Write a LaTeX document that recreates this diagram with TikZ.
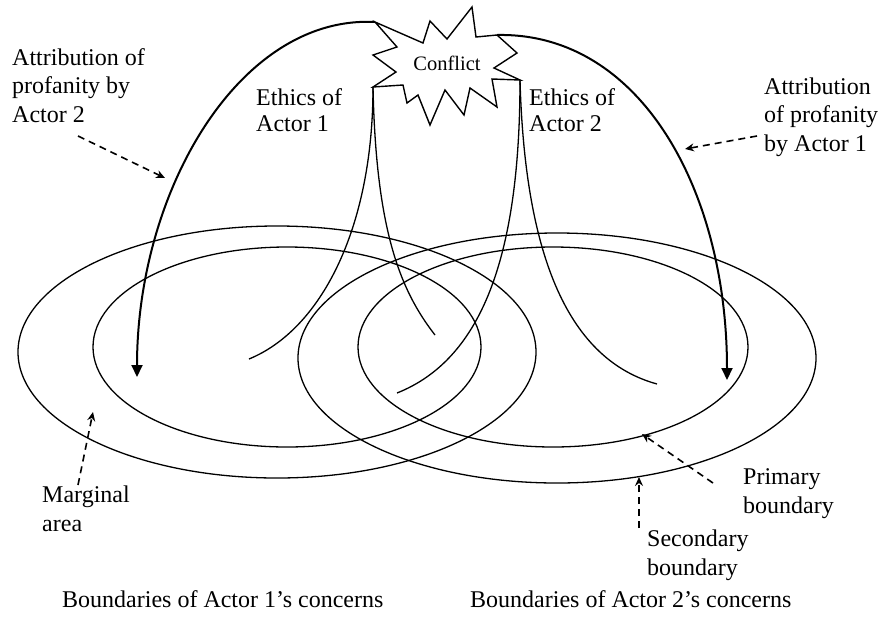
\documentclass[tikz,border=0pt]{standalone}
\usepackage{fontspec}
\setmainfont{Liberation Serif}
\usetikzlibrary{arrows.meta}
\begin{document}
\begin{tikzpicture}[x=1pt,y=-1pt,
  thinline/.style={line width=1.3pt},
  bigarc/.style={line width=2pt,-{Triangle[length=12pt,width=11pt]}},
  pointer/.style={line width=1.6pt,dash pattern=on 7pt off 5pt,-{Stealth[length=9pt,width=8pt,inset=3pt]}},
  lbl/.style={font=\fontsize{24pt}{28.5pt}\selectfont,align=left,inner sep=0pt,anchor=base west},
  lbltight/.style={font=\fontsize{24pt}{26pt}\selectfont,align=left,inner sep=0pt,anchor=base west},
]
\useasboundingbox (0,0) rectangle (884,633);

% boundaries
\draw[thinline] (277,352) ellipse [x radius=259pt, y radius=126pt];
\draw[thinline] (287,347) ellipse [x radius=194pt, y radius=100pt];
\draw[thinline] (557,358) ellipse [x radius=259pt, y radius=125pt];
\draw[thinline] (553,347) ellipse [x radius=195pt, y radius=100pt];

% star tips used as connector ends
\coordinate (sTL) at (375,22);
\coordinate (sTR) at (497,35);
\coordinate (sBL) at (373,87);
\coordinate (sBR) at (520,80);

% ethics curves
\coordinate (e1a) at (249,359);
\coordinate (e1b) at (435,335);
\coordinate (e2a) at (397,393);
\coordinate (e2b) at (657,384);
\draw[thinline] (sBL) .. controls (373,230) and (320,330) .. (e1a);
\draw[thinline] (sBL) .. controls (376,230) and (400,290) .. (e1b);
\draw[thinline] (sBR) .. controls (520,260) and (480,360) .. (e2a);
\draw[thinline] (sBR) .. controls (525,260) and (570,360) .. (e2b);

% attribution arcs
\coordinate (a2tip) at (137,377);
\coordinate (a1tip) at (727,380);
\draw[bigarc] (sTL) .. controls (240,15) and (137,190) .. (a2tip);
\draw[bigarc] (sTR) .. controls (640,32) and (727,190) .. (a1tip);

% conflict star
\draw[line width=1.4pt, fill=white] (sTL) -- (423,43) -- (430,21) -- (447,39) -- (472,7) -- (476,37) -- (sTR) -- (517,53) -- (494,68) -- (sBR) -- (492,79) -- (497,107) -- (470,88) -- (464,115) -- (445,90) -- (430,125) -- (418,95) -- (407,103) -- (403,85) -- (sBL) -- (396,72) -- (373,55) -- (397,47) -- cycle;
\node[font=\fontsize{20.5pt}{24pt}\selectfont, inner sep=0pt, anchor=base] (conflict) at (447,70) {Conflict};

% labels (anchored at the baseline of their last line)
\node[lbl] (attr2) at (12,122) {Attribution of\\profanity by\\Actor 2};
\node[lbltight] (eth1) at (256,131) {Ethics of\\Actor 1};
\node[lbltight] (eth2) at (529,131) {Ethics of\\Actor 2};
\node[lbl] (attr1) at (764,151) {Attribution\\of profanity\\by Actor 1};
\node[lbl] (marg) at (42,531) {Marginal\\area};
\node[lbl] (prim) at (743,513) {Primary\\boundary};
\node[lbl] (sec) at (647,575) {Secondary\\boundary};
\node[lbl] (b1) at (62,607) {Boundaries of Actor 1’s concerns};
\node[lbl] (b2) at (470,607) {Boundaries of Actor 2’s concerns};

% dashed pointers
\coordinate (p1s) at (78,136);  \coordinate (p1e) at (165,178);
\coordinate (p2s) at (757,136); \coordinate (p2e) at (685,149);
\coordinate (p3s) at (78,485);  \coordinate (p3e) at (93,412);
\coordinate (p4s) at (713,483); \coordinate (p4e) at (642,434);
\coordinate (p5s) at (639,528); \coordinate (p5e) at (639,477);
\draw[pointer] (p1s) -- (p1e);
\draw[pointer] (p2s) -- (p2e);
\draw[pointer] (p3s) -- (p3e);
\draw[pointer] (p4s) -- (p4e);
\draw[pointer] (p5s) -- (p5e);
\end{tikzpicture}
\end{document}
